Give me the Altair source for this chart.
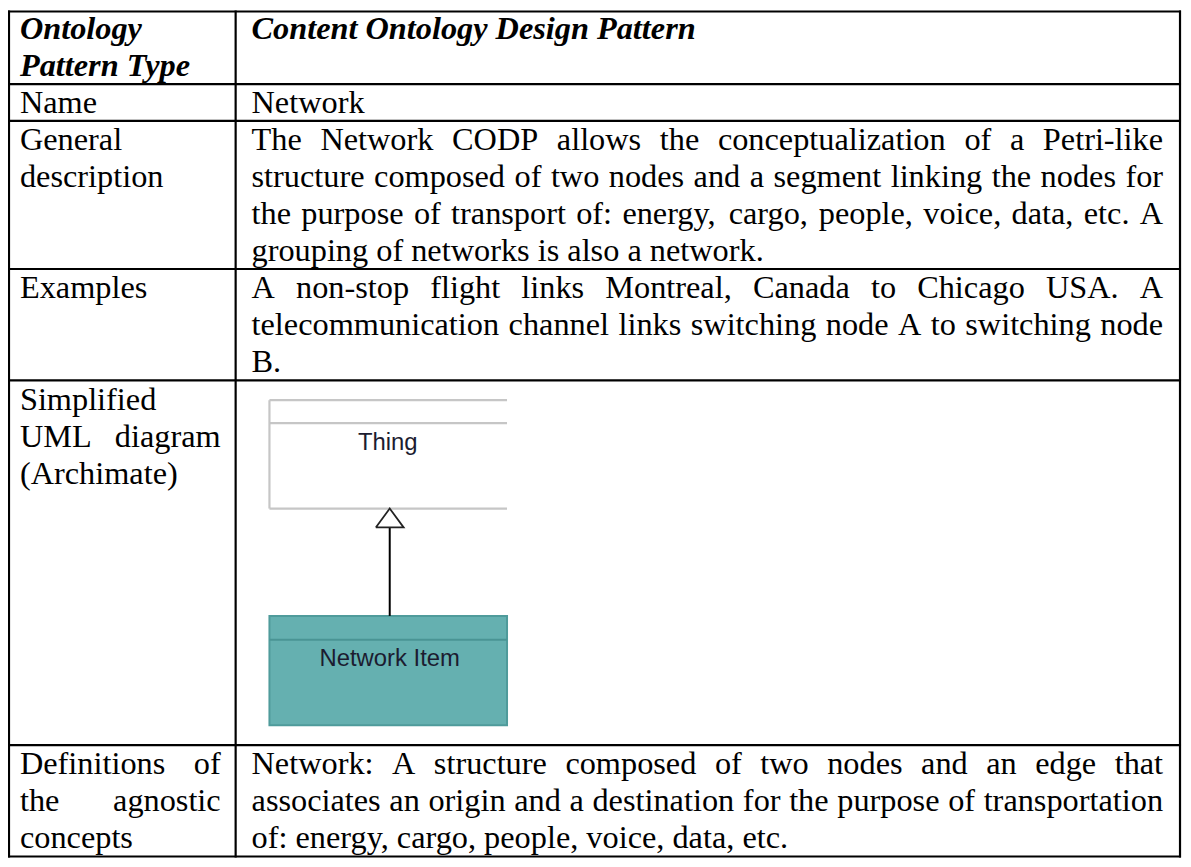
import altair as alt
import pandas as pd

# ---------------- table content ----------------
HEADER_LEFT = ["Ontology", "Pattern Type"]
HEADER_RIGHT = ["Content Ontology Design Pattern"]

ROW_LABELS = [
    ["Name"],
    ["General", "description"],
    ["Examples"],
    ["Simplified", "UML diagram", "(Archimate)"],
    ["Definitions of", "the agnostic", "concepts"],
]
ROW_TEXT = [
    ["Network"],
    ["The Network CODP allows the conceptualization of a Petri-like",
     "structure composed of two nodes and a segment linking the nodes for",
     "the purpose of transport of: energy, cargo, people, voice, data, etc. A",
     "grouping of networks is also a network."],
    ["A non-stop flight links Montreal, Canada to Chicago USA. A",
     "telecommunication channel links switching node A to switching node",
     "B."],
    [],
    ["Network: A structure composed of two nodes and an edge that",
     "associates an origin and a destination for the purpose of transportation",
     "of: energy, cargo, people, voice, data, etc."],
]
UML_CLASSES = ["Thing", "Network Item"]

# ---------------- layout (page pixels) ----------------
ROW_EDGES = [9, 82, 119, 268, 380, 747, 859]
COL_EDGES = [9, 237, 1187]
LEFT_PAD_L, LEFT_PAD_R = 20, 222
RIGHT_PAD_L, RIGHT_PAD_R = 253, 1170
FIRST_BASELINE = 29.5
LINE_STEP = 37.2
FONT_SIZE = 32.5
SERIF = "Liberation Serif"

# Times / Liberation Serif advance widths (1/1000 em)
TIMES = {
    " ": 250, "(": 333, ")": 333, ",": 250, "-": 333, ".": 250, ":": 278,
    "A": 722, "B": 667, "C": 667, "D": 722, "E": 611, "F": 556, "G": 722, "H": 722,
    "I": 333, "J": 389, "K": 722, "L": 611, "M": 889, "N": 722, "O": 722, "P": 556,
    "Q": 722, "R": 667, "S": 556, "T": 611, "U": 722, "V": 722, "W": 944, "X": 722,
    "Y": 722, "Z": 611,
    "a": 444, "b": 500, "c": 444, "d": 500, "e": 444, "f": 333, "g": 500, "h": 500,
    "i": 278, "j": 278, "k": 500, "l": 278, "m": 778, "n": 500, "o": 500, "p": 500,
    "q": 500, "r": 333, "s": 389, "t": 278, "u": 500, "v": 500, "w": 722, "x": 500,
    "y": 500, "z": 444,
}


def text_width(s):
    return sum(TIMES.get(c, 500) for c in s) / 1000.0 * FONT_SIZE


def layout_cell(lines, left, right, top):
    rows = []
    for i, line in enumerate(lines):
        y = top + FIRST_BASELINE + i * LINE_STEP
        words = line.split(" ")
        if i == len(lines) - 1 or len(words) == 1:
            rows.append(dict(x=left, y=y, t=line))
        else:
            widths = [text_width(w) for w in words]
            gap = (right - left - sum(widths)) / (len(words) - 1)
            x = left
            for w, wd in zip(words, widths):
                rows.append(dict(x=x, y=y, t=w))
                x += wd + gap
    return rows


# header text
head_rows = layout_cell(HEADER_LEFT, LEFT_PAD_L, LEFT_PAD_R, ROW_EDGES[0] - 2) + \
    layout_cell(HEADER_RIGHT, RIGHT_PAD_L, RIGHT_PAD_R, ROW_EDGES[0] - 2)
# body text
body_rows = []
for r, (lab, txt) in enumerate(zip(ROW_LABELS, ROW_TEXT)):
    top = ROW_EDGES[r + 1]
    body_rows += layout_cell(lab, LEFT_PAD_L, LEFT_PAD_R, top)
    body_rows += layout_cell(txt, RIGHT_PAD_L, RIGHT_PAD_R, top)

head_df = pd.DataFrame(head_rows)
body_df = pd.DataFrame(body_rows)

# grid lines
grid = []
for y in ROW_EDGES:
    grid.append(dict(x=COL_EDGES[0] - 1, x2=COL_EDGES[-1] + 1, y=y, y2=y))
for x in COL_EDGES:
    grid.append(dict(x=x, x2=x, y=ROW_EDGES[0] - 1, y2=ROW_EDGES[-1] + 1))
grid_df = pd.DataFrame(grid)

# UML diagram geometry
BOX_L, BOX_R = 271, 510
THING_TOP, THING_DIV, THING_BOT = 400, 423, 509
NET_TOP, NET_DIV, NET_BOT = 617, 641, 727
ARROW_X, ARROW_BASE, ARROW_HALF = 392, 528, 14

thing_lines = pd.DataFrame([
    dict(x=BOX_L, x2=BOX_R, y=THING_TOP, y2=THING_TOP),
    dict(x=BOX_L, x2=BOX_R, y=THING_DIV, y2=THING_DIV),
    dict(x=BOX_L, x2=BOX_R, y=THING_BOT, y2=THING_BOT),
    dict(x=BOX_L, x2=BOX_L, y=THING_TOP, y2=THING_BOT),
])
net_box = pd.DataFrame([dict(x=BOX_L, x2=BOX_R, y=NET_TOP, y2=NET_BOT)])
net_div = pd.DataFrame([dict(x=BOX_L, x2=BOX_R, y=NET_DIV, y2=NET_DIV)])
stem = pd.DataFrame([dict(x=ARROW_X, x2=ARROW_X, y=ARROW_BASE, y2=NET_TOP)])
tri = pd.DataFrame([
    dict(x=ARROW_X - ARROW_HALF, y=ARROW_BASE, o=0),
    dict(x=ARROW_X, y=THING_BOT, o=1),
    dict(x=ARROW_X + ARROW_HALF, y=ARROW_BASE, o=2),
    dict(x=ARROW_X - ARROW_HALF, y=ARROW_BASE, o=3),
])
uml_text = pd.DataFrame([
    dict(x=390, y=450, t=UML_CLASSES[0]),
    dict(x=392, y=667, t=UML_CLASSES[1]),
])

W, H = 1182, 856
xs = alt.Scale(domain=[8, 8 + W], nice=False, zero=False)
ys = alt.Scale(domain=[8, 8 + H], nice=False, zero=False, reverse=True)


def X(f="x"):
    return alt.X(f, type="quantitative", scale=xs, axis=None)


def Y(f="y"):
    return alt.Y(f, type="quantitative", scale=ys, axis=None)


def X2(f="x2"):
    return alt.X2(f)


def Y2(f="y2"):
    return alt.Y2(f)


grid_layer = alt.Chart(grid_df).mark_rule(color="black", strokeWidth=2.2).encode(
    x=X(), x2=X2(), y=Y(), y2=Y2())

thing_layer = alt.Chart(thing_lines).mark_rule(color="#c6c6c6", strokeWidth=2.2).encode(
    x=X(), x2=X2(), y=Y(), y2=Y2())

net_layer = alt.Chart(net_box).mark_rect(fill="#65b0b0", stroke="#4f9b9b", strokeWidth=2).encode(
    x=X(), x2=X2(), y=Y(), y2=Y2())

net_div_layer = alt.Chart(net_div).mark_rule(color="#4a9494", strokeWidth=2).encode(
    x=X(), x2=X2(), y=Y(), y2=Y2())

stem_layer = alt.Chart(stem).mark_rule(color="black", strokeWidth=2).encode(
    x=X(), x2=X2(), y=Y(), y2=Y2())

tri_layer = alt.Chart(tri).mark_line(color="#222222", strokeWidth=1.8).encode(
    x=X(), y=Y(), order=alt.Order("o:Q"))

uml_text_layer = alt.Chart(uml_text).mark_text(
    font="Liberation Sans", fontSize=24, color="#1c1c30", align="center", baseline="alphabetic"
).encode(x=X(), y=Y(), text="t:N")

head_layer = alt.Chart(head_df).mark_text(
    font=SERIF, fontSize=FONT_SIZE, fontStyle="italic", fontWeight="bold",
    color="black", align="left", baseline="alphabetic"
).encode(x=X(), y=Y(), text="t:N")

body_layer = alt.Chart(body_df).mark_text(
    font=SERIF, fontSize=FONT_SIZE, color="black", align="left", baseline="alphabetic"
).encode(x=X(), y=Y(), text="t:N")

chart = alt.layer(
    thing_layer, net_layer, net_div_layer, stem_layer, tri_layer, uml_text_layer,
    head_layer, body_layer, grid_layer
).properties(
    width=W, height=H, padding=0, autosize=alt.AutoSizeParams(type="none"),
    background="white"
).configure_view(stroke=None)

chart.save("out.html", embed_options={"renderer": "svg", "actions": False})
